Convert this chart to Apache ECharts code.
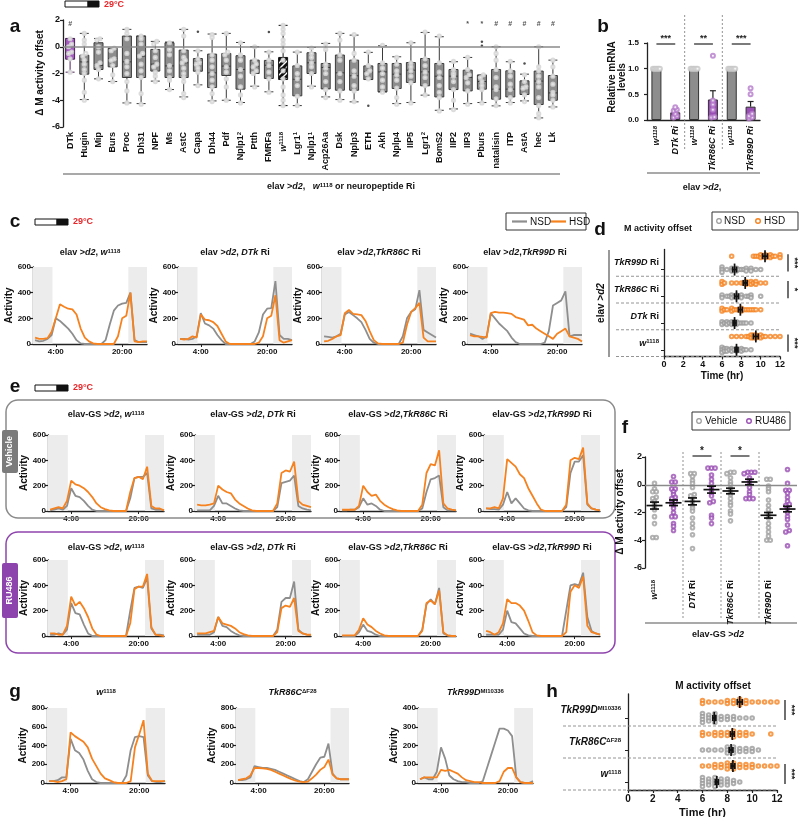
<!DOCTYPE html>
<html><head><meta charset="utf-8">
<script src="https://cdn.jsdelivr.net/npm/echarts@6/dist/echarts.min.js"></script>
<style>html,body{margin:0;padding:0;background:#fff}#c{width:800px;height:817px}</style>
</head><body><div id="c"></div>
<script>
const FONT = 'Liberation Sans, Arial, sans-serif';
const GRAY = '#8e8e8e', ORANGE = '#f5821f', PURPLE = '#9448ad', BOXG = '#8d8d8d';

// ================= DATA =================
// Panel a
const catsA = ['DTk','Hugin','Mip','Burs','Proc','Dh31','NPF','Ms','AstC','Capa','Dh44','Pdf','Nplp1^2','Ptth','FMRFa','w^1118','Lgr1^1','Nplp1^1','Acp26Aa','Dsk','Nplp3','ETH','Akh','Nplp4','IIP5','Lgr1^2','BomS2','IIP2','IIP3','Pburs','natalisin','ITP','AstA','hec','Lk'];
const boxA = [
 [-1.9,-0.93,-0.43,0.62,0.62],[-3.95,-2.05,-1.13,-0.63,1.0],[-2.4,-1.7,-1.4,0.3,0.62],[-2.6,-1.5,-0.88,-0.12,-0.12],
 [-4.2,-2.3,-1.13,0.8,1.3],[-4.25,-2.3,-0.7,0.8,0.8],[-2.57,-1.82,-1.3,-0.2,0.4],[-3.2,-2.3,-1.43,0.3,0.35],
 [-3.75,-2.3,-1.2,-0.25,1.3],[-2.85,-1.83,-1.25,-0.88,-0.3],[-4.05,-3.05,-1.95,-0.55,0.95],[-4.0,-2.15,-1.45,-0.5,1.0],
 [-4.17,-3.17,-1.7,-0.67,0.32],[-2.95,-2.0,-1.45,-1.0,0.0],[-3.37,-2.37,-1.38,-1.02,-0.38],[-4.4,-2.45,-1.6,-0.8,1.6],
 [-4.4,-3.67,-2.43,-1.43,-0.4],[-2.95,-2.0,-1.2,-0.45,-0.05],[-3.75,-3.15,-1.55,-1.25,0.25],[-3.95,-3.25,-1.95,-0.62,1.0],
 [-4.12,-3.25,-2.17,-1.0,0.87],[-2.45,-2.45,-1.88,-1.43,-0.42],[-3.37,-3.37,-1.88,-1.25,0.07],[-4.25,-3.12,-2.05,-1.25,-0.75],
 [-4.17,-2.67,-1.75,-1.18,0.3],[-3.62,-2.92,-1.88,-0.88,1.07],[-4.75,-3.75,-2.2,-1.25,0.75],[-4.65,-3.2,-2.2,-1.7,-1.12],
 [-4.25,-3.3,-2.3,-1.75,-0.8],[-4.17,-3.17,-2.6,-2.12,-2.12],[-4.42,-3.92,-3.17,-1.7,0.0],[-4.17,-3.75,-3.17,-1.8,-1.12],
 [-4.05,-3.57,-3.05,-2.55,-2.05],[-5.32,-4.32,-2.57,-1.82,0.0],[-4.5,-4.0,-3.45,-2.15,-1.0]];
const ptsA = [
 [0.6,0.2,0.0,-0.4,-0.5,-0.9,-1.9],
 [1.0,0.5,0.2,-0.5,-0.7,-1.0,-1.3,-1.7,-2.0,-2.5,-3.4,-4.0],
 [0.6,0.5,0.0,-0.4,-1.2,-1.4,-1.7,-2.4],
 [-0.1,-0.3,-0.9,-1.0,-1.4,-2.1,-2.6],
 [1.3,1.0,0.6,-0.5,-1.1,-1.5,-2.0,-2.6,-3.3,-4.2],
 [0.8,0.6,0.2,-0.5,-0.7,-1.3,-1.8,-2.3,-3.5,-4.3],
 [0.4,0.2,-0.3,-0.8,-1.3,-1.5,-1.9,-2.2,-2.6],
 [0.3,-0.2,-0.6,-1.4,-1.8,-2.3,-2.5,-3.2],
 [1.3,0.8,-0.3,-0.8,-1.0,-1.2,-1.6,-2.0,-2.3,-2.6,-3.5,-3.8],
 [-0.3,-0.9,-1.2,-1.3,-1.6,-1.9,-2.9],
 [0.9,0.7,-0.6,-1.0,-1.5,-2.0,-2.5,-3.0,-3.5,-4.1],
 [1.0,-0.4,-0.6,-1.0,-1.5,-1.9,-2.4,-3.0,-4.0],
 [0.3,-0.6,-1.0,-1.7,-2.2,-3.0,-3.6,-4.2],
 [0.0,-1.0,-1.3,-1.5,-1.8,-2.0,-3.0],
 [-0.4,-1.0,-1.4,-1.9,-2.4,-3.4],
 [1.6,1.3,1.0,0.5,0.2,-0.3,-1.0,-1.8,-2.4,-3.0,-3.6,-4.0,-4.4],
 [-0.4,-1.4,-2.0,-2.4,-2.9,-3.7,-4.4],
 [-0.1,-0.5,-0.8,-1.2,-1.5,-2.0,-3.0],
 [0.2,-0.2,-1.3,-1.6,-2.0,-2.6,-3.2,-3.8],
 [1.0,0.5,-0.6,-1.0,-2.0,-2.6,-3.3,-4.0],
 [0.9,-0.5,-1.0,-1.8,-2.2,-2.9,-3.3,-4.1],
 [-0.4,-1.4,-1.8,-2.0,-2.4],
 [0.1,-1.2,-1.6,-2.0,-2.5,-3.0,-3.4],
 [-0.8,-1.3,-1.8,-2.1,-2.5,-3.1,-3.8,-4.3],
 [0.3,-1.2,-1.5,-1.8,-2.2,-2.7,-4.2],
 [1.1,-0.9,-1.4,-1.9,-2.3,-2.9,-3.6],
 [0.8,-1.2,-1.9,-2.3,-2.9,-3.4,-3.8,-4.8],
 [-1.1,-1.7,-2.0,-2.2,-2.6,-3.2,-4.0,-4.7],
 [-0.8,-1.7,-2.1,-2.3,-2.7,-3.3,-4.3],
 [-2.1,-2.3,-2.6,-2.9,-3.2,-4.2],
 [0.0,-0.5,-1.0,-1.7,-2.3,-3.0,-3.2,-3.9,-4.4],
 [-1.1,-1.8,-2.2,-2.8,-3.2,-3.8,-4.2],
 [-2.1,-2.6,-3.0,-3.1,-3.6,-4.1],
 [0.0,-1.5,-1.8,-2.2,-2.6,-3.0,-3.8,-4.4,-5.0,-5.3],
 [-1.0,-1.5,-2.2,-2.8,-3.4,-3.6,-4.0,-4.5]];
const outliersA = [[9,1.12],[14,1.1],[21,-4.42],[29,0.37],[29,0.07],[32,-1.25]];
const marksA = [[0,'#'],[28,'*'],[29,'*'],[30,'#'],[31,'#'],[32,'#'],[33,'#'],[34,'#']];

// Panel b
const catsB = ['w^1118','DTk Ri','w^1118','TkR86C Ri','w^1118','TkR99D Ri'];
const meanB = [1, 0.15, 1, 0.40, 1, 0.26];
const semB = [0, 0.03, 0, 0.17, 0, 0.10];
const ptsB = [[1,1,1,1,1,1],[0.05,0.08,0.12,0.18,0.2,0.25],[1,1,1,1,1,1],[0.05,0.06,0.2,0.3,0.38,1.25],[1,1,1,1,1,1],[0.03,0.05,0.08,0.12,0.5,0.62]];
const sigB = [[0,1,'***'],[2,3,'**'],[4,5,'***']];

// Activity profiles (hour bins)
const hours = [-1,0,1,2,3,4,5,6,7,8,9,10,11,12,13,14,15,16,17,18,19,20,21,22,23,24,25,26];
const tickHours = [4,20];
const tickHourLabels = ['4:00','20:00'];
const c1N=[30,20,25,40,70,200,180,150,120,80,30,5,0,0,0,0,0,30,150,260,300,315,320,400,30,15,15,15];
const c1H=[50,40,40,45,95,200,310,290,275,270,230,120,50,20,5,0,0,0,0,0,60,200,220,400,20,15,20,20];
const c2N=[40,40,35,40,60,240,160,145,120,70,30,0,0,0,0,0,0,0,20,90,230,275,280,490,70,40,40,30];
const c2H=[40,35,40,60,50,230,190,185,170,140,80,20,0,0,0,0,0,0,0,10,60,200,220,380,30,10,20,30];
const c3N=[60,55,50,60,80,230,250,225,200,170,110,40,10,0,0,0,0,0,0,60,200,250,270,420,110,90,70,50];
const c3H=[20,25,40,60,70,240,265,235,230,225,180,100,30,5,0,0,0,0,0,10,150,250,280,320,50,20,20,20];
const c4N=[80,70,60,40,60,240,200,160,130,100,50,15,0,0,0,0,0,0,10,100,300,320,340,410,60,70,70,70];
const c4H=[70,60,60,55,50,240,250,245,245,240,235,210,200,190,145,150,120,100,80,60,40,80,100,120,60,50,40,20];

const e1VN=[5,10,20,10,40,180,120,110,80,40,10,0,0,0,0,0,0,0,0,100,260,270,270,300,20,10,10,5];
const e1VH=[10,20,30,20,80,240,210,200,180,150,110,60,30,15,5,0,0,0,0,150,260,270,250,350,40,20,20,5];
const e2VN=[5,5,5,5,40,120,60,60,40,20,5,0,0,0,0,0,0,0,0,30,220,230,240,280,40,20,10,5];
const e2VH=[50,45,45,50,60,200,170,150,140,90,60,40,20,5,0,0,0,0,0,60,300,320,310,390,80,50,40,30];
const e3VN=[5,5,10,10,30,100,50,60,40,10,0,0,0,0,0,0,0,0,0,20,150,250,260,280,30,5,5,5];
const e3VH=[10,10,10,10,40,200,150,120,130,80,50,30,15,5,0,0,0,0,0,50,300,370,360,480,60,20,10,5];
const e4VN=[20,15,15,10,50,150,60,100,60,20,5,0,0,0,0,0,0,0,0,30,300,390,390,440,50,20,10,5];
const e4VH=[20,20,30,20,100,410,380,350,290,260,180,120,60,10,0,0,0,0,0,50,400,420,410,500,60,20,10,5];
const e1RN=[10,10,20,10,50,260,180,170,90,20,0,0,0,0,0,0,0,0,0,200,380,390,380,460,60,10,10,5];
const e1RH=[20,20,10,10,80,310,240,270,220,150,60,10,0,0,0,0,0,0,0,100,370,390,390,490,70,10,5,0];
const e2RN=[10,10,10,10,30,150,80,70,40,20,5,0,0,0,0,0,0,0,0,50,270,300,300,430,50,20,10,5];
const e2RH=[20,20,20,30,40,150,100,90,80,60,30,15,5,0,0,0,0,0,0,30,220,240,230,300,40,20,10,10];
const e3RN=[0,0,0,0,30,90,40,30,10,0,0,0,0,0,0,0,0,0,0,50,250,290,250,380,20,5,0,0];
const e3RH=[5,5,5,5,50,140,90,70,40,20,5,0,0,0,0,0,0,0,0,40,260,280,250,360,30,5,0,0];
const e4RN=[10,10,10,10,50,200,110,100,60,20,5,0,0,0,0,0,0,0,0,200,400,410,400,500,150,40,20,10];
const e4RH=[40,30,10,30,100,290,260,260,240,200,120,30,5,0,0,0,0,0,0,30,350,400,380,470,80,30,20,10];

const g1N=[20,20,30,60,60,470,350,320,250,130,40,10,0,0,0,0,0,0,80,350,490,500,490,80,20,10,10,20];
const g1H=[20,20,10,20,40,540,500,470,440,380,260,180,100,50,30,10,0,0,0,20,380,520,670,100,20,20,20,20];
const g2N=[30,30,40,60,180,170,160,160,150,140,120,100,80,60,40,20,10,40,120,200,270,280,420,100,50,40,40,40];
const g2H=[30,40,50,80,160,160,155,150,140,120,100,80,60,40,25,15,10,15,50,90,140,170,250,90,50,40,40,40];
const g3N=[20,30,20,20,60,190,130,40,20,10,5,5,0,0,0,10,80,150,220,290,290,280,250,30,5,0,0,10];
const g3H=[20,30,30,30,30,70,65,70,60,50,30,15,10,5,5,0,0,0,0,10,60,80,80,30,5,0,0,0];

// Panel d (rows bottom -> top)
const rowsD = ['w NSD','w HSD','DTk NSD','DTk HSD','86C NSD','86C HSD','99D NSD','99D HSD'];
const groupsD = ['{i|w}{s|1118}','{i|DTk} Ri','{i|TkR86C} Ri','{i|TkR99D} Ri'];
const ptsD = [
 [6,6,6,6.25,6.25,6.5,6.5,6.75,7,7,7.25,7.5,7.5,7.75,8,8,8.25,8.5,9],
 [7,7.5,8,8.5,8.75,9,9,9.25,9.25,9.5,9.5,9.75,10,10,10.25,10.5,11,11.5,12],
 [6,6,6.25,6.5,6.5,6.75,7,7,7.25,7.25,7.5,7.5,7.75,8,8.25,8.5,9],
 [6,6,6.25,6.5,7,7,7.25,7.5,7.75,8,8,8.25,8.5,8.75,9,9.25,9.5,10],
 [6,6,6.5,6.75,7,7,7.25,7.5,7.5,7.75,8,8,8.5,8.75,9,9,10],
 [6,6,6.25,7,7.5,8,8.25,8.5,8.5,8.75,9,9,9.25,9.5,9.5,10,10.5],
 [6,6,6,6.5,7,7,7.25,7.5,7.5,7.75,8,8.25,8.5,8.5,9,9,9.5,10],
 [7,9.25,9.5,9.75,10,10,10.25,10.5,10.5,10.75,11,11,11.25,11.5,12,12]];
const meanD = [7.5,9.5,7.3,7.9,7.5,8.4,7.3,10.45];
const semD = [0.15,0.25,0.15,0.2,0.2,0.2,0.2,0.25];
const sigD = [[6,7,3],[4,5,1],[0,1,3]];

// Panel f (columns)
const colsF = ['w^1118','','DTk Ri','','TkR86C Ri','','TkR99D Ri',''];
const ptsF = [
 [0.1,-0.3,-0.5,-0.5,-0.9,-1.0,-1.2,-1.4,-1.6,-1.8,-2.3,-2.8,-3.8,-3.8],
 [0.6,0.2,0.2,-0.3,-0.3,-0.5,-0.7,-0.9,-1.0,-1.2,-1.3,-1.5,-1.7,-2.0,-2.3,-2.3,-2.8,-3.0,-3.3],
 [0.8,0.8,0.6,0.3,0.1,-0.2,-0.7,-0.8,-1.2,-1.5,-1.7,-1.9,-2.4,-2.8,-3.1,-3.6,-4.6],
 [1.2,1.2,1.2,0.7,0.4,0.1,-0.2,-0.4,-0.6,-0.8,-1.2,-1.3,-2.2,-2.4,-2.8],
 [0.9,0.9,0.8,0.5,0.2,0.0,-0.3,-0.5,-0.7,-1.0,-1.3,-1.5,-1.9,-2.1,-2.6],
 [0.9,0.9,0.9,0.8,0.5,0.3,0.0,-0.2,-0.5,-0.7,-1.0,-1.0,-1.0],
 [0.4,0.4,-0.1,-0.3,-0.5,-1.1,-1.5,-1.8,-2.1,-2.4,-2.8,-3.1,-3.4,-3.7,-4.0,-4.0],
 [1.1,0.1,-0.4,-0.4,-0.6,-0.9,-1.2,-1.4,-1.5,-1.7,-2.0,-2.3,-2.5,-2.9,-3.3,-3.4,-4.4]];
const meanF = [-1.5,-1.3,-1.2,-0.35,-0.45,0.2,-2.2,-1.75];
const semF = [0.25,0.2,0.25,0.25,0.2,0.2,0.2,0.2];
const sigF = [[2,3,'*'],[4,5,'*']];

// Panel h
const rowsH = ['w NSD','w HSD','86C NSD','86C HSD','99D NSD','99D HSD'];
const groupsH = ['{i|w}{s|1118}','{i|TkR86C}{s|ΔF28}','{i|TkR99D}{s|MI10336}'];
const ptsH = [
 [6,6,6,6,6.5,6.5,6.5,7,7,7,7,7.5,7.5,7.5,8,8,8,8.5,8.5,9],
 [6,6.5,7,7,7.5,7.5,8,8,8,8.5,8.5,8.5,9,9,9.5,9.5,10,10,10.5,11,11.5,12],
 [6,6.5,7,7.5,8,8,8,8.5,8.5,8.5,9,9,9.5,9.5,10,10,10.5],
 [6,6,6.5,7,7,7.5,7.5,8,8,8.5,8.5,8.5,9,9,9.5,9.5,10,11.5],
 [6,6,6,6,6.5,6.5,6.5,7,7,7,7,7.5,7.5,8,8,8.5,8.5,9,9.5,10],
 [6,6,6.5,7,7.5,8,8,8.5,8.5,9,9,9,9.5,9.5,10,10.5,11,11.5,12]];
const meanH = [7.15,8.45,8.3,8.4,6.95,9.0];
const semH = [0.12,0.15,0.15,0.15,0.12,0.2];
const sigH = [[4,5,3],[0,1,3]];

// Titles
const titlesC = ['elav >{i|d2}, {i|w}{s|1118}','elav >{i|d2}, {i|DTk} Ri','elav >{i|d2},{i|TkR86C} Ri','elav >{i|d2},{i|TkR99D} Ri'];
const titlesE = ['elav-GS >{i|d2}, {i|w}{s|1118}','elav-GS >{i|d2}, {i|DTk} Ri','elav-GS >{i|d2},{i|TkR86C} Ri','elav-GS >{i|d2},{i|TkR99D} Ri'];
const titlesG = ['{i|w}{s|1118}','{i|TkR86C}{s|ΔF28}','{i|TkR99D}{s|MI10336}'];

// ================= BUILD =================
function rich(sz){
  return {
    i:{fontStyle:'italic',fontWeight:'bold',fontSize:sz,fontFamily:FONT,fill:'#111',color:'#111'},
    s:{fontSize:Math.round(sz*0.62),fontWeight:'bold',fontFamily:FONT,verticalAlign:'top',fill:'#111',color:'#111'},
    b:{fontWeight:'bold',fontSize:sz,fontFamily:FONT,fill:'#111',color:'#111'}
  };
}
function supFmt(s){
  if(s==='w^1118') return '{i|w}{s|1118}';
  let m = s.match(/^(\S+) Ri$/);
  if(m) return '{i|'+m[1]+'} Ri';
  return s.replace(/\^(\S+)/,'{s|$1}');
}

const option = {animation:false, textStyle:{fontFamily:FONT}, grid:[], xAxis:[], yAxis:[], series:[], graphic:[]};
const G = option.graphic;
function addGrid(g){ option.grid.push(Object.assign({containLabel:false, outerBoundsMode:'none'}, g)); return option.grid.length-1; }
function txt(x,y,text,o){
  o=o||{}; const sz=o.size||9;
  G.push({type:'text', x, y, rotation:o.rot||0, z:100, style:{text, fill:o.color||'#111', fontSize:sz, fontWeight:o.weight||'bold', fontFamily:FONT, fontStyle:o.italic?'italic':'normal', align:o.align||'center', verticalAlign:'middle', rich:rich(sz)}});
}
function line(x1,y1,x2,y2,stroke,w,dash){ G.push({type:'line', z:90, shape:{x1,y1,x2,y2}, style:{stroke:stroke||'#444', lineWidth:w||1.2, lineDash:dash||null}}); }
function rect(x,y,w,h,fill,stroke,lw,r){ G.push({type:'rect', z:80, shape:{x,y,width:w,height:h,r:r||0}, style:{fill:fill||'none', stroke:stroke||null, lineWidth:lw||1}}); }

const AXL = {show:true, onZero:false, lineStyle:{color:'#222', width:1.3}};
const TICK = {show:true, length:3, lineStyle:{color:'#222', width:1.2}};
const LAB = {fontSize:8, fontWeight:'bold', color:'#111', fontFamily:FONT};

function swarm(vals, tol, step){
  const idx = vals.map((v,i)=>i).sort((a,b)=>vals[a]-vals[b]);
  const off = vals.map(()=>0);
  let start=0;
  for(let k=1;k<=idx.length;k++){
    if(k===idx.length || vals[idx[k]]-vals[idx[start]]>tol){
      const n=k-start;
      for(let j=start;j<k;j++) off[idx[j]]=(j-start-(n-1)/2)*step;
      start=k;
    }
  }
  return off;
}

// ---------- Panel a ----------
(function(){
  const gi=addGrid({left:63, top:20, width:497, height:107});
  const xi=option.xAxis.length, yi=option.yAxis.length;
  option.xAxis.push({gridIndex:gi, type:'category', data:catsA, axisLine:{show:false}, axisTick:{show:false},
    axisLabel:{interval:0, rotate:90, margin:5, fontSize:9, fontWeight:'bold', color:'#111', formatter:supFmt, rich:rich(9)}});
  option.yAxis.push({gridIndex:gi, type:'value', min:-6, max:2, interval:2, axisLine:AXL, axisTick:TICK, axisLabel:Object.assign({},LAB,{fontSize:9, margin:3}), splitLine:{show:false}});
  const pc=document.createElement('canvas'); pc.width=6; pc.height=6; const cx=pc.getContext('2d');
  cx.fillStyle='#111'; cx.fillRect(0,0,6,6); cx.strokeStyle='#fff'; cx.lineWidth=1.4;
  cx.beginPath(); cx.moveTo(0,6); cx.lineTo(6,0); cx.moveTo(-3,3); cx.lineTo(3,-3); cx.moveTo(3,9); cx.lineTo(9,3); cx.stroke();
  option.series.push({type:'line', xAxisIndex:xi, yAxisIndex:yi, data:[], z:1, markLine:{silent:true, symbol:'none', label:{show:false}, lineStyle:{color:'#8a8a8a', width:1.6, type:'solid'}, data:[{yAxis:0}]}});
  option.series.push({type:'boxplot', xAxisIndex:xi, yAxisIndex:yi, z:3, boxWidth:[9,9],
    itemStyle:{color:BOXG, borderColor:'#3a3a3a', borderWidth:1},
    data:boxA.map((v,i)=> i===0?{value:v,itemStyle:{color:'#a35cbd',borderColor:'#4a2358'}} : (catsA[i]==='w^1118'?{value:v,itemStyle:{color:{image:pc,repeat:'repeat'},borderColor:'#111'}}:v))});
  const P=[]; ptsA.forEach((arr,i)=>{const off=swarm(arr,0.2,3); arr.forEach((v,k)=>P.push({value:[i,v],symbolOffset:[off[k],0]}));});
  option.series.push({type:'scatter', xAxisIndex:xi, yAxisIndex:yi, z:4, symbol:'emptyCircle', symbolSize:3.2,
    itemStyle:{color:'#d6d6d6', borderWidth:0.8, opacity:0.85}, data:P});
  option.series.push({type:'scatter', xAxisIndex:xi, yAxisIndex:yi, z:4, symbolSize:2.5, itemStyle:{color:'#222'}, data:outliersA});
  option.series.push({type:'scatter', xAxisIndex:xi, yAxisIndex:yi, z:4, symbolSize:0,
    data:marksA.map(m=>({value:[m[0],1.7], label:{show:true, formatter:m[1], position:'inside', fontSize:7, fontWeight:'bold', color:'#222'}}))});
  txt(40,73,'Δ M activity offset',{rot:Math.PI/2,size:10});
  line(63,174,560,174,'#555',1.2);
  txt(341,187,'elav >{i|d2},   {i|w}{s|1118} or neuropeptide Ri',{size:9});
  txt(15,27,'a',{size:19});
  rect(65,1,23,6,'#fff','#111',1); rect(88,1,11,6,'#111','#111',1);
  txt(104,5,'29°C',{color:'#e8262a',size:9,align:'left'});
})();

// ---------- Panel b ----------
(function(){
  const gi=addGrid({left:647, top:43, width:113, height:77});
  const xi=option.xAxis.length, yi=option.yAxis.length;
  option.xAxis.push({gridIndex:gi, type:'category', data:catsB, axisLine:AXL, axisTick:{show:false},
    axisLabel:{interval:0, rotate:90, margin:6, fontSize:9, fontWeight:'bold', fontStyle:'italic', color:'#111', formatter:supFmt, rich:rich(9)}});
  option.yAxis.push({gridIndex:gi, type:'value', min:0, max:1.5, interval:0.5, axisLine:AXL, axisTick:TICK, axisLabel:Object.assign({},LAB,{formatter:v=>v.toFixed(1)}), splitLine:{show:false}});
  option.series.push({type:'bar', xAxisIndex:xi, yAxisIndex:yi, barWidth:10, z:2,
    data:meanB.map((v,i)=>({value:v, itemStyle:{color:i%2?'#9a4fb4':BOXG, borderColor:'#333', borderWidth:1}}))});
  option.series.push({type:'custom', xAxisIndex:xi, yAxisIndex:yi, z:3, encode:{x:0,y:1},
    data:meanB.map((v,i)=>[i,v,semB[i]]).filter(d=>d[2]>0),
    renderItem:(p,api)=>{const a=api.coord([api.value(0),api.value(1)]), b=api.coord([api.value(0),api.value(1)+api.value(2)]);
      const st={stroke:'#222',lineWidth:1.2};
      return {type:'group',children:[{type:'line',shape:{x1:a[0],y1:a[1],x2:b[0],y2:b[1]},style:st},{type:'line',shape:{x1:b[0]-3,y1:b[1],x2:b[0]+3,y2:b[1]},style:st}]};}});
  const pts=[]; ptsB.forEach((arr,i)=>{const off=swarm(arr,0.04,i%2?3.2:1.4); arr.forEach((v,k)=>pts.push({value:[i,v],symbolOffset:[off[k],0], itemStyle:{color: i%2?'#b57acb':'#c8c8c8'}}));});
  option.series.push({type:'scatter', xAxisIndex:xi, yAxisIndex:yi, z:4, symbol:'emptyCircle', symbolSize:4, data:pts});
  option.series.push({type:'custom', xAxisIndex:xi, yAxisIndex:yi, z:5, encode:{x:0,y:1},
    data:sigB.map(s=>[s[0],1.5,s[1],s[2].length]),
    renderItem:(p,api)=>{const a=api.coord([api.value(0),api.value(1)]), b=api.coord([api.value(2),api.value(1)]);
      return {type:'group',children:[{type:'line',shape:{x1:a[0],y1:a[1]+1,x2:b[0],y2:b[1]+1},style:{stroke:'#222',lineWidth:1.2}},
        {type:'text',x:(a[0]+b[0])/2,y:a[1]-4,style:{text:'*'.repeat(api.value(3)),align:'center',verticalAlign:'middle',fontSize:9,fontWeight:'bold',fill:'#222'}}]};}});
  option.series.push({type:'custom', xAxisIndex:xi, yAxisIndex:yi, z:1, encode:{x:0,y:1}, clip:false,
    data:[[1,0],[3,0]],
    renderItem:(p,api)=>{const a=api.coord([api.value(0),1.5]), b=api.coord([api.value(0)+1,0]); const x=(a[0]+b[0])/2;
      return {type:'line',shape:{x1:x,y1:a[1]-28,x2:x,y2:b[1]+30},style:{stroke:'#777',lineWidth:0.8,lineDash:[2,2]}};}});
  txt(617,77,'Relative mRNA\nlevels',{rot:Math.PI/2,size:10});
  line(647,173,760,173,'#555',1.2);
  txt(702,188,'elav >{i|d2},',{size:9});
  txt(603,27,'b',{size:19});
})();

// ---------- activity plots ----------
function activity(left, top, width, height, ymax, yint, nsd, hsd, title, titleY){
  const gi=addGrid({left, top, width, height});
  const xi=option.xAxis.length, yi=option.yAxis.length;
  option.xAxis.push({gridIndex:gi, type:'value', min:-1.5, max:26, axisLine:AXL,
    axisTick:{show:true, customValues:tickHours, length:3, lineStyle:{color:'#222'}},
    axisLabel:Object.assign({},LAB,{customValues:tickHours, margin:4, formatter:v=>tickHourLabels[tickHours.indexOf(v)]}), splitLine:{show:false}});
  option.yAxis.push({gridIndex:gi, type:'value', min:0, max:ymax, interval:yint, name:'Activity', nameLocation:'middle', nameGap:15,
    nameTextStyle:{fontSize:10, fontWeight:'bold', color:'#111', fontFamily:FONT}, axisLine:AXL, axisTick:TICK,
    axisLabel:Object.assign({},LAB,{margin:2}), splitLine:{show:false}});
  const mk=d=>hours.map((t,i)=>[t,d[i]]);
  option.series.push({type:'line', xAxisIndex:xi, yAxisIndex:yi, data:mk(nsd), showSymbol:false, z:3,
    lineStyle:{color:GRAY,width:1.8}, itemStyle:{color:GRAY},
    markArea:{silent:true, itemStyle:{color:'#ececec'}, data:[[{xAxis:-1.5},{xAxis:3.2}],[{xAxis:21.5},{xAxis:26}]]}});
  option.series.push({type:'line', xAxisIndex:xi, yAxisIndex:yi, data:mk(hsd), showSymbol:false, z:4,
    lineStyle:{color:ORANGE,width:1.8}, itemStyle:{color:ORANGE}});
  txt(left+width/2, titleY, title, {size:9});
}
const cLeft=[33,178,322,468];
const cN=[c1N,c2N,c3N,c4N], cH=[c1H,c2H,c3H,c4H];
cLeft.forEach((l,i)=>activity(l,267,114,77,600,200,cN[i],cH[i],titlesC[i],253));
const eLeft=[48,195,340,484];
const eVN=[e1VN,e2VN,e3VN,e4VN], eVH=[e1VH,e2VH,e3VH,e4VH], eRN=[e1RN,e2RN,e3RN,e4RN], eRH=[e1RH,e2RH,e3RH,e4RH];
eLeft.forEach((l,i)=>activity(l,435,116,76,600,200,eVN[i],eVH[i],titlesE[i],415));
eLeft.forEach((l,i)=>activity(l,560,116,76,600,200,eRN[i],eRH[i],titlesE[i],548));
activity(47,708,118,75,800,200,g1N,g1H,titlesG[0],693);
activity(236,708,113,75,800,200,g2N,g2H,titlesG[1],693);
activity(418,708,115,75,400,100,g3N,g3H,titlesG[2],693);

// headers c / e / g
txt(15,222,'c',{size:19});
rect(35,219,22,6,'#fff','#111',1); rect(57,219,11,6,'#111','#111',1);
txt(73,222,'29°C',{color:'#e8262a',size:9,align:'left'});
rect(506,213,80,17,'#fff','#333',1);
line(512,221.5,527,221.5,GRAY,2.2); txt(530,222,'NSD',{size:10,weight:'normal',align:'left'});
line(551,221.5,566,221.5,ORANGE,2.2); txt(569,222,'HSD',{size:10,weight:'normal',align:'left'});
txt(15,387,'e',{size:19});
rect(35,385,22,6,'#fff','#111',1); rect(57,385,11,6,'#111','#111',1);
txt(73,388,'29°C',{color:'#e8262a',size:9,align:'left'});
rect(6,400,609,118,'none','#8a8a8a',1.5,12);
rect(2,430,16,43,'#7b7b7b',null,1,2);
txt(10,451.5,'Vehicle',{rot:Math.PI/2,color:'#fff',size:9});
rect(6,532,609,121,'none','#8e44ad',1.5,12);
rect(2,563,16,55,'#8e44ad',null,1,2);
txt(10,590.5,'RU486',{rot:Math.PI/2,color:'#fff',size:9});
txt(15,692,'g',{size:19});

// ---------- dot-plot helper (d, h) ----------
function dotRows(o){
  const gi=addGrid({left:o.left, top:o.top, width:o.width, height:o.height});
  const xi=option.xAxis.length, yi=option.yAxis.length;
  option.xAxis.push({gridIndex:gi, type:'value', min:0, max:12, interval:2, axisLine:AXL, axisTick:TICK,
    axisLabel:Object.assign({},LAB,{fontSize:o.fs, margin:4}), splitLine:{show:false},
    name:'Time (hr)', nameLocation:'middle', nameGap:o.nameGap, nameTextStyle:{fontSize:o.fs+1, fontWeight:'bold', color:'#111', fontFamily:FONT}});
  option.yAxis.push({gridIndex:gi, type:'category', position:'left', data:o.rows, axisLine:AXL,
    axisTick:{show:true, alignWithLabel:true, length:3, interval:(i)=>i%2===0, lineStyle:{color:'#222'}}, axisLabel:{show:false}});
  option.yAxis.push({gridIndex:gi, type:'category', position:'left', offset:0, data:o.groups, axisLine:{show:false}, axisTick:{show:false},
    axisLabel:{fontSize:o.lfs, fontWeight:'bold', color:'#111', margin:o.lm, rich:rich(o.lfs)}});
  const N=[],H=[];
  o.pts.forEach((arr,r)=>{const off=swarm(arr,0.01,o.step); arr.forEach((v,k)=>(r%2?H:N).push({value:[v,r],symbolOffset:[0,off[k]]}));});
  option.series.push({type:'scatter', xAxisIndex:xi, yAxisIndex:yi, z:3, symbol:'emptyCircle', symbolSize:3.6, itemStyle:{color:'#9a9a9a', borderWidth:1}, data:N});
  option.series.push({type:'scatter', xAxisIndex:xi, yAxisIndex:yi, z:3, symbol:'emptyCircle', symbolSize:3.6, itemStyle:{color:ORANGE, borderWidth:1}, data:H});
  option.series.push({type:'custom', xAxisIndex:xi, yAxisIndex:yi, z:5, encode:{x:0,y:1},
    data:o.mean.map((m,i)=>[m,i,o.sem[i]]),
    renderItem:(p,api)=>{const x=api.value(0), r=api.value(1), se=api.value(2);
      const c=api.coord([x,r]), a=api.coord([x-se,r]), b=api.coord([x+se,r]); const st={stroke:'#111',lineWidth:1.7};
      return {type:'group',children:[
        {type:'line',shape:{x1:a[0],y1:c[1],x2:b[0],y2:c[1]},style:st},
        {type:'line',shape:{x1:c[0],y1:c[1]-6,x2:c[0],y2:c[1]+6},style:st},
        {type:'line',shape:{x1:a[0],y1:c[1]-3,x2:a[0],y2:c[1]+3},style:st},
        {type:'line',shape:{x1:b[0],y1:c[1]-3,x2:b[0],y2:c[1]+3},style:st}]};}});
  option.series.push({type:'custom', xAxisIndex:xi, yAxisIndex:yi, z:5, clip:false, encode:{x:0,y:1},
    data:o.sig.map(s=>[12,s[0],s[1],s[2]]),
    renderItem:(p,api)=>{const a=api.coord([12,api.value(1)]), b=api.coord([12,api.value(2)]); const x=a[0]+8;
      return {type:'group',children:[
        {type:'line',shape:{x1:x,y1:a[1]+2,x2:x,y2:b[1]-2},style:{stroke:'#222',lineWidth:1.3}},
        {type:'text',x:x+6,y:(a[1]+b[1])/2,rotation:-Math.PI/2,style:{text:'*'.repeat(api.value(3)),align:'center',verticalAlign:'middle',fontSize:9,fontWeight:'bold',fill:'#222'}}]};}});
  option.series.push({type:'custom', xAxisIndex:xi, yAxisIndex:yi, z:1, clip:false, encode:{x:0,y:1},
    data:o.seps.map(v=>[12,0,v]),
    renderItem:(p,api)=>{const p0=api.coord([12,0]), p1=api.coord([12,1]); const y=p0[1]+(p1[1]-p0[1])*api.value(2);
      return {type:'line',shape:{x1:o.sepLeft,y1:y,x2:p0[0],y2:y},style:{stroke:'#888',lineWidth:0.9,lineDash:[3,2]}};}});
}
dotRows({left:664, top:249.5, width:116, height:107, fs:9, lfs:9, lm:5, nameGap:15, rows:rowsD, groups:groupsD, pts:ptsD, mean:meanD, sem:semD, sig:sigD, seps:[1.5,3.5,5.5,-0.5], sepLeft:616, step:2.6});
txt(600,230,'d',{size:19});
txt(658,229,'M activity offset',{size:9});
rect(712,212,86,18,'#fff','#333',1);
G.push({type:'circle',z:95,shape:{cx:719,cy:221,r:2.3},style:{fill:'#fff',stroke:'#9a9a9a',lineWidth:1.2}});
txt(724,221.5,'NSD',{size:10,weight:'normal',align:'left'});
G.push({type:'circle',z:95,shape:{cx:758,cy:221,r:2.3},style:{fill:'#fff',stroke:ORANGE,lineWidth:1.4}});
txt(764,221.5,'HSD',{size:10,weight:'normal',align:'left'});
txt(601,303,'elav >{i|d2}',{rot:Math.PI/2,size:10});
line(609,250,609,357,'#777',1.5);

dotRows({left:628, top:694, width:149, height:96, fs:10, lfs:10, lm:7, nameGap:17, rows:rowsH, groups:groupsH, pts:ptsH, mean:meanH, sem:semH, sig:sigH, seps:[1.5,3.5,-0.5], sepLeft:563, step:3});
txt(713,686,'M activity offset',{size:10});
txt(552,692,'h',{size:19});

// ---------- Panel f ----------
(function(){
  const gi=addGrid({left:645, top:457, width:152, height:111});
  const xi=option.xAxis.length, yi=option.yAxis.length;
  option.xAxis.push({gridIndex:gi, type:'category', data:colsF, axisLine:{show:false}, axisTick:{show:false},
    axisLabel:{interval:0, rotate:90, margin:12, fontSize:9, fontWeight:'bold', color:'#111', formatter:supFmt, rich:rich(9)}});
  option.yAxis.push({gridIndex:gi, type:'value', min:-6, max:2, interval:2, axisLine:AXL, axisTick:TICK, axisLabel:Object.assign({},LAB,{fontSize:9,margin:3}), splitLine:{show:false}});
  option.series.push({type:'line', xAxisIndex:xi, yAxisIndex:yi, data:[], z:1, markLine:{silent:true, symbol:'none', label:{show:false}, lineStyle:{color:'#8a8a8a', width:1.4, type:'solid'}, data:[{yAxis:0}]}});
  const V=[],R=[];
  ptsF.forEach((arr,c)=>{const off=swarm(arr,0.12,3.6); arr.forEach((v,k)=>(c%2?R:V).push({value:[c,v],symbolOffset:[off[k],0]}));});
  option.series.push({type:'scatter', xAxisIndex:xi, yAxisIndex:yi, z:3, symbol:'emptyCircle', symbolSize:3.6, itemStyle:{color:'#a0a0a0',borderWidth:1}, data:V});
  option.series.push({type:'scatter', xAxisIndex:xi, yAxisIndex:yi, z:3, symbol:'emptyCircle', symbolSize:3.6, itemStyle:{color:'#9a4fb4',borderWidth:1.2}, data:R});
  option.series.push({type:'custom', xAxisIndex:xi, yAxisIndex:yi, z:5, encode:{x:0,y:1},
    data:meanF.map((m,i)=>[i,m,semF[i]]),
    renderItem:(p,api)=>{const i=api.value(0), m=api.value(1), se=api.value(2);
      const c=api.coord([i,m]), a=api.coord([i,m-se]), b=api.coord([i,m+se]); const st={stroke:'#111',lineWidth:1.7};
      return {type:'group',children:[
        {type:'line',shape:{x1:c[0]-8,y1:c[1],x2:c[0]+8,y2:c[1]},style:st},
        {type:'line',shape:{x1:c[0],y1:a[1],x2:c[0],y2:b[1]},style:st},
        {type:'line',shape:{x1:c[0]-4.5,y1:a[1],x2:c[0]+4.5,y2:a[1]},style:st},
        {type:'line',shape:{x1:c[0]-4.5,y1:b[1],x2:c[0]+4.5,y2:b[1]},style:st}]};}});
  option.series.push({type:'custom', xAxisIndex:xi, yAxisIndex:yi, z:5, clip:false, encode:{x:0,y:1},
    data:sigF.map(s=>[s[0],2,s[1],s[2].length]),
    renderItem:(p,api)=>{const a=api.coord([api.value(0),api.value(1)]), b=api.coord([api.value(2),api.value(1)]);
      return {type:'group',children:[{type:'line',shape:{x1:a[0],y1:a[1]-1,x2:b[0],y2:b[1]-1},style:{stroke:'#222',lineWidth:1.2}},
        {type:'text',x:(a[0]+b[0])/2,y:a[1]-6,style:{text:'*'.repeat(api.value(3)),align:'center',verticalAlign:'middle',fontSize:10,fontWeight:'bold',fill:'#222'}}]};}});
  option.series.push({type:'custom', xAxisIndex:xi, yAxisIndex:yi, z:1, clip:false, encode:{x:0,y:1},
    data:[[1,0],[3,0],[5,0]],
    renderItem:(p,api)=>{const a=api.coord([api.value(0),2]), b=api.coord([api.value(0)+1,-6]); const x=(a[0]+b[0])/2;
      return {type:'line',shape:{x1:x,y1:a[1]-5,x2:x,y2:b[1]+52},style:{stroke:'#777',lineWidth:0.8,lineDash:[2,2]}};}});
  txt(620,512,'Δ M activity offset',{rot:Math.PI/2,size:10});
  line(645,623,797,623,'#555',1.2);
  txt(718,635,'elav-GS >{i|d2}',{size:9});
  txt(625,428,'f',{size:19});
  rect(692,412,98,18,'#fff','#333',1);
  G.push({type:'circle',z:95,shape:{cx:699,cy:421,r:2.3},style:{fill:'#fff',stroke:'#9a9a9a',lineWidth:1.2}});
  txt(705,421.5,'Vehicle',{size:10,weight:'normal',align:'left'});
  G.push({type:'circle',z:95,shape:{cx:749,cy:421,r:2.3},style:{fill:'#fff',stroke:'#9a4fb4',lineWidth:1.4}});
  txt(755,421.5,'RU486',{size:10,weight:'normal',align:'left'});
})();

const chart = echarts.init(document.getElementById('c'), null, {renderer:'canvas'});
chart.setOption(option);
</script>
</body></html>
